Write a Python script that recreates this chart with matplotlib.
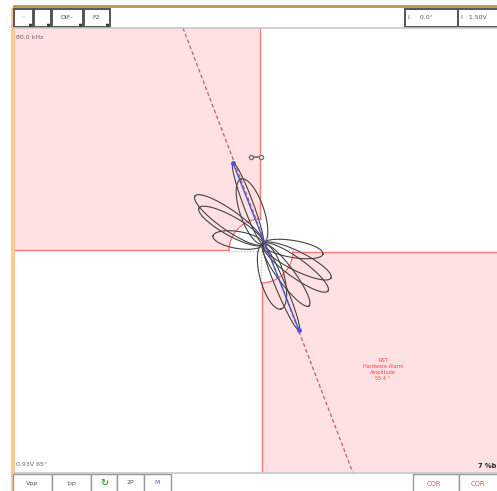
import numpy as np
import matplotlib
matplotlib.use('Agg')
from matplotlib import pyplot as plt
from matplotlib.patches import Rectangle, Polygon

plt.rcParams['font.family'] = 'DejaVu Sans'

W, H = 497, 491

# screen extent of the impedance plane, in display units (centre = 0,0)
x_range = [-248, 236]
y_range = [-222, 223]

# lobe tips of the Lissajous signal (display units) and lobe widths
lobe_center = [2, 7]
lobe_tip_x = [-66, -62, -48, -28, -20, 70, 67, 62, 48, 38, 20]
lobe_tip_y = [55, 43, 15, 88, 72, -27, -40, -3, -55, -79, -58]
lobe_width = [20, 19, 17, 10, 24, 19, 19, 17, 17, 10, 24]

# phase line and measurement line end points
phase_x = [-78, 92]
phase_y = [223, -222]
meas_x = [-28, 38]
meas_y = [88, -79]

alarm_radius = 32
alarm_text = ['RST', 'Hardware Alarm', 'Amplitude', '55.4 °']

top_buttons = ['·', '', 'DIF-', 'F2']
top_edges = [13, 33, 51, 83, 110]
bottom_buttons = ['Vpp', "'pp", '↻', '2P', 'M']
bottom_edges = [13, 52, 91, 117, 144, 171]

pink = '#ffe0e3'
red_edge = '#ff7878'

fig = plt.figure(figsize=(W / 100, H / 100), dpi=100)

# impedance plane
ax = fig.add_axes([13 / W, (H - 473) / H, (497 - 13) / W, (473 - 28) / H])
ax.set_xlim(x_range)
ax.set_ylim(y_range)
ax.axis('off')

r = alarm_radius
t = np.linspace(np.pi, np.pi / 2, 40)
tl = [(x_range[0], 1), (-r, 1)] + list(zip(r * np.cos(t), r * np.sin(t))) + [(-1, r), (-1, y_range[1]), (x_range[0], y_range[1])]
ax.add_patch(Polygon(tl, closed=True, fc=pink, ec='none', zorder=0))
t2 = np.linspace(0, -np.pi / 2, 40)
br = [(x_range[1], -1), (r, -1)] + list(zip(r * np.cos(t2), r * np.sin(t2))) + [(1, -r), (1, y_range[0]), (x_range[1], y_range[0])]
ax.add_patch(Polygon(br, closed=True, fc=pink, ec='none', zorder=0))

ax.plot([x_range[0], -r], [1, 1], color=red_edge, lw=1, zorder=1)
ax.plot([-1, -1], [r, y_range[1]], color=red_edge, lw=1, zorder=1)
ax.plot(r * np.cos(t), r * np.sin(t), color=red_edge, lw=1, zorder=1)
ax.plot([r, x_range[1]], [-1, -1], color=red_edge, lw=1, zorder=1)
ax.plot([1, 1], [-r, y_range[0]], color=red_edge, lw=1, zorder=1)
ax.plot(r * np.cos(t2), r * np.sin(t2), color=red_edge, lw=1, zorder=1)

ax.plot([-r, 0], [0, 0], color='#a0b0ff', lw=0.8, ls=':', zorder=1)
ax.plot([0, 0], [0, -r], color='#a0b0ff', lw=0.8, ls=':', zorder=1)

ax.plot(phase_x, phase_y, color='#d05868', lw=0.9, ls=(0, (3, 2)), zorder=2)

# signal lobes
s = np.linspace(0, 2 * np.pi, 200)
cx, cy = lobe_center
for tx, ty, w in zip(lobe_tip_x, lobe_tip_y, lobe_width):
    dx, dy = tx - cx, ty - cy
    a = np.hypot(dx, dy) / 2
    ang = np.arctan2(dy, dx)
    ex = a * np.cos(s)
    ey = w / 2 * np.sin(s)
    px = cx + dx / 2 + ex * np.cos(ang) - ey * np.sin(ang)
    py = cy + dy / 2 + ex * np.sin(ang) + ey * np.cos(ang)
    ax.plot(px, py, color='#444444', lw=0.8, zorder=3)

ax.plot(meas_x, meas_y, color='#4656d8', lw=1.0, marker='o', ms=2.5, zorder=4)
ax.plot([-10, 0], [94, 94], color='#707070', lw=1.2, marker='o', ms=3, mfc='white', zorder=4)

for i, line in enumerate(alarm_text):
    ax.text(122, -110 - i * 5.8, line, color='#ff4040', fontsize=3.6, ha='center', va='center')

# instrument chrome in pixel coordinates
ui = fig.add_axes([0, 0, 1, 1], zorder=5)
ui.set_xlim(0, W)
ui.set_ylim(H, 0)
ui.axis('off')
ui.patch.set_alpha(0)

ui.add_patch(Rectangle((13, 5), W - 13, 2.5, fc='#c99a50', ec='none'))
ui.add_patch(Rectangle((11, 8), 3.5, H - 8, fc='#fbc98a', ec='none'))
ui.plot([13, W], [27.5, 27.5], color='#c8c8c8', lw=1.2)
ui.plot([13, W], [473, 473], color='#c8c8c8', lw=1.2)

for i, lab in enumerate(top_buttons):
    x0, x1 = top_edges[i], top_edges[i + 1]
    ui.add_patch(Rectangle((x0 + 1, 9), x1 - x0 - 1, 18, fc='white', ec='#555555', lw=1.4))
    ui.text((x0 + x1) / 2, 17, lab, fontsize=4.5, color='#555555', ha='center', va='center')
    ui.plot([x1 - 3], [24.5], marker='v', ms=1.6, color='#333333')

for x0, x1, lab in [(405, 458, 'I     0.0°'), (458, 500, 'I   1.50V')]:
    ui.add_patch(Rectangle((x0, 9), x1 - x0, 18, fc='white', ec='#555555', lw=1.4))
    ui.text(x0 + 3, 17, lab, fontsize=4.5, color='#555555', ha='left', va='center')

for i, lab in enumerate(bottom_buttons):
    x0, x1 = bottom_edges[i], bottom_edges[i + 1]
    ui.add_patch(Rectangle((x0, 474), x1 - x0, 20, fc='white', ec='#999999', lw=1.0))
    col = '#555555'
    fs = 4.5
    if lab == '↻':
        col, fs = '#30b030', 7
    if lab == 'M':
        col = '#5060a0'
    ui.text((x0 + x1) / 2, 483, lab, fontsize=fs, color=col, ha='center', va='center', fontweight='bold' if lab == '↻' else 'normal')

for x0, x1 in [(413, 459), (459, 500)]:
    ui.add_patch(Rectangle((x0, 474), x1 - x0, 20, fc='white', ec='#999999', lw=1.0))
    ui.text((x0 + x1) / 2 - 2, 484, 'COR', fontsize=4.8, color='#ff4a4a', ha='center', va='center')

ui.text(16, 37, '80.0 kHz', fontsize=4.5, color='#666666', ha='left', va='center')
ui.text(16, 465, '0.93V 65°', fontsize=4.5, color='#666666', ha='left', va='center')
ui.text(496, 466, '7 %b', fontsize=4.8, color='#222222', ha='right', va='center', fontweight='bold')

fig.savefig('out.png', dpi=100, facecolor='white')
